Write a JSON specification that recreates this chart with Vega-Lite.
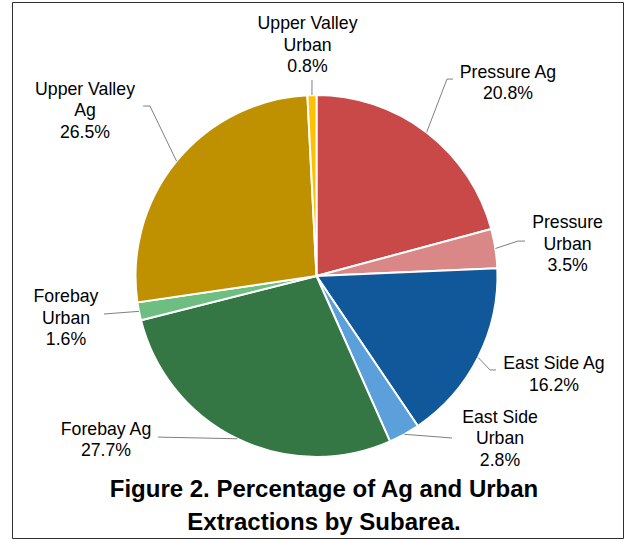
{
  "$schema": "https://vega.github.io/schema/vega-lite/v6.json",
  "width": 611,
  "height": 536,
  "autosize": "none",
  "padding": {"left": 12, "top": 2, "right": 5, "bottom": 3},
  "background": "white",
  "config": {
    "view": {"stroke": "#303030", "strokeWidth": 1},
    "font": "Liberation Sans"
  },
  "title": {
    "text": ["Figure 2. Percentage of Ag and Urban", "Extractions by Subarea."],
    "orient": "bottom",
    "frame": "group",
    "anchor": "middle",
    "baseline": "alphabetic",
    "offset": -41.5,
    "dx": 6.5,
    "font": "Liberation Sans",
    "fontSize": 24,
    "fontWeight": "bold",
    "color": "#000000",
    "lineHeight": 33
  },
  "data": {
    "values": [
      {"name": "Pressure Ag", "value": 20.8},
      {"name": "Pressure Urban", "value": 3.5},
      {"name": "East Side Ag", "value": 16.2},
      {"name": "East Side Urban", "value": 2.8},
      {"name": "Forebay Ag", "value": 27.7},
      {"name": "Forebay Urban", "value": 1.6},
      {"name": "Upper Valley Ag", "value": 26.5},
      {"name": "Upper Valley Urban", "value": 0.8}
    ]
  },
  "transform": [
    {"window": [{"op": "row_number", "as": "seq"}, {"op": "sum", "field": "value", "as": "cum"}], "frame": [null, 0]},
    {"joinaggregate": [{"op": "sum", "field": "value", "as": "total"}]},
    {"calculate": "(datum.cum - datum.value / 2) / datum.total * 2 * PI", "as": "a"},
    {"calculate": "indexof(['Pressure Ag','Pressure Urban','East Side Ag','East Side Urban','Forebay Ag','Forebay Urban','Upper Valley Ag','Upper Valley Urban'], datum.name)", "as": "i"},
    {"calculate": "['Pressure Ag','Pressure|Urban','East Side Ag','East Side|Urban','Forebay Ag','Forebay|Urban','Upper Valley|Ag','Upper Valley|Urban'][datum.i] + '|' + format(datum.value, '.1f') + '%'", "as": "lbl"},
    {"calculate": "[1.058, 1.387, 1.312, 1.014, -1.163, -1.384, -1.279, -0.0497][datum.i]", "as": "lu"},
    {"calculate": "[1.094, 0.265, -0.514, -0.812, -0.878, -0.144, 1.0, 1.3646][datum.i]", "as": "lv"},
    {"calculate": "[[[0.721,1.088],[0.754,1.088]],[[1.113,0.193],[1.152,0.193]],[[0.959,-0.519],[0.992,-0.519]],[[0.749,-0.895],[0.749,-0.895]],[[-0.876,-0.890],[-0.876,-0.890]],[[-1.174,-0.210],[-1.174,-0.210]],[[-0.920,0.939],[-0.958,0.939]],[[-0.0249,1.0829],[-0.0249,1.0829]]][datum.i]", "as": "ends"},
    {"calculate": "[[sin(datum.a), cos(datum.a), 0], [datum.ends[0][0], datum.ends[0][1], 1], [datum.ends[1][0], datum.ends[1][1], 2]]", "as": "pts"}
  ],
  "layer": [
    {
      "mark": {"type": "arc", "outerRadius": 181, "stroke": "white", "strokeWidth": 2},
      "encoding": {
        "theta": {"field": "value", "type": "quantitative", "stack": true},
        "order": {"field": "seq", "type": "quantitative"},
        "color": {
          "field": "name",
          "type": "nominal",
          "scale": {
            "domain": ["Pressure Ag", "Pressure Urban", "East Side Ag", "East Side Urban", "Forebay Ag", "Forebay Urban", "Upper Valley Ag", "Upper Valley Urban"],
            "range": ["#C84948", "#D98787", "#11589A", "#5B9FDB", "#357744", "#6DBE80", "#BF9000", "#FFC000"]
          },
          "legend": null
        },
        "x": {"datum": 0, "type": "quantitative", "scale": {"domain": [-1.6823, 1.6934], "nice": false, "zero": false}, "axis": null},
        "y": {"datum": 0, "type": "quantitative", "scale": {"domain": [-1.4475, 1.5138], "nice": false, "zero": false}, "axis": null}
      }
    },
    {
      "transform": [
        {"flatten": ["pts"]},
        {"calculate": "datum.pts[0]", "as": "u"},
        {"calculate": "datum.pts[1]", "as": "v"},
        {"calculate": "datum.pts[2]", "as": "k"}
      ],
      "mark": {"type": "line", "color": "#808080", "strokeWidth": 1},
      "encoding": {
        "x": {"field": "u", "type": "quantitative", "scale": {"domain": [-1.6823, 1.6934], "nice": false, "zero": false}, "axis": null},
        "y": {"field": "v", "type": "quantitative", "scale": {"domain": [-1.4475, 1.5138], "nice": false, "zero": false}, "axis": null},
        "detail": {"field": "name"},
        "order": {"field": "k", "type": "quantitative"}
      }
    },
    {
      "mark": {"type": "text", "align": "center", "baseline": "alphabetic", "lineBreak": "|", "fontSize": 17.7, "lineHeight": 21.5, "color": "#000000", "font": "Liberation Sans"},
      "encoding": {
        "x": {"field": "lu", "type": "quantitative", "scale": {"domain": [-1.6823, 1.6934], "nice": false, "zero": false}, "axis": null},
        "y": {"field": "lv", "type": "quantitative", "scale": {"domain": [-1.4475, 1.5138], "nice": false, "zero": false}, "axis": null},
        "text": {"field": "lbl"}
      }
    }
  ]
}
